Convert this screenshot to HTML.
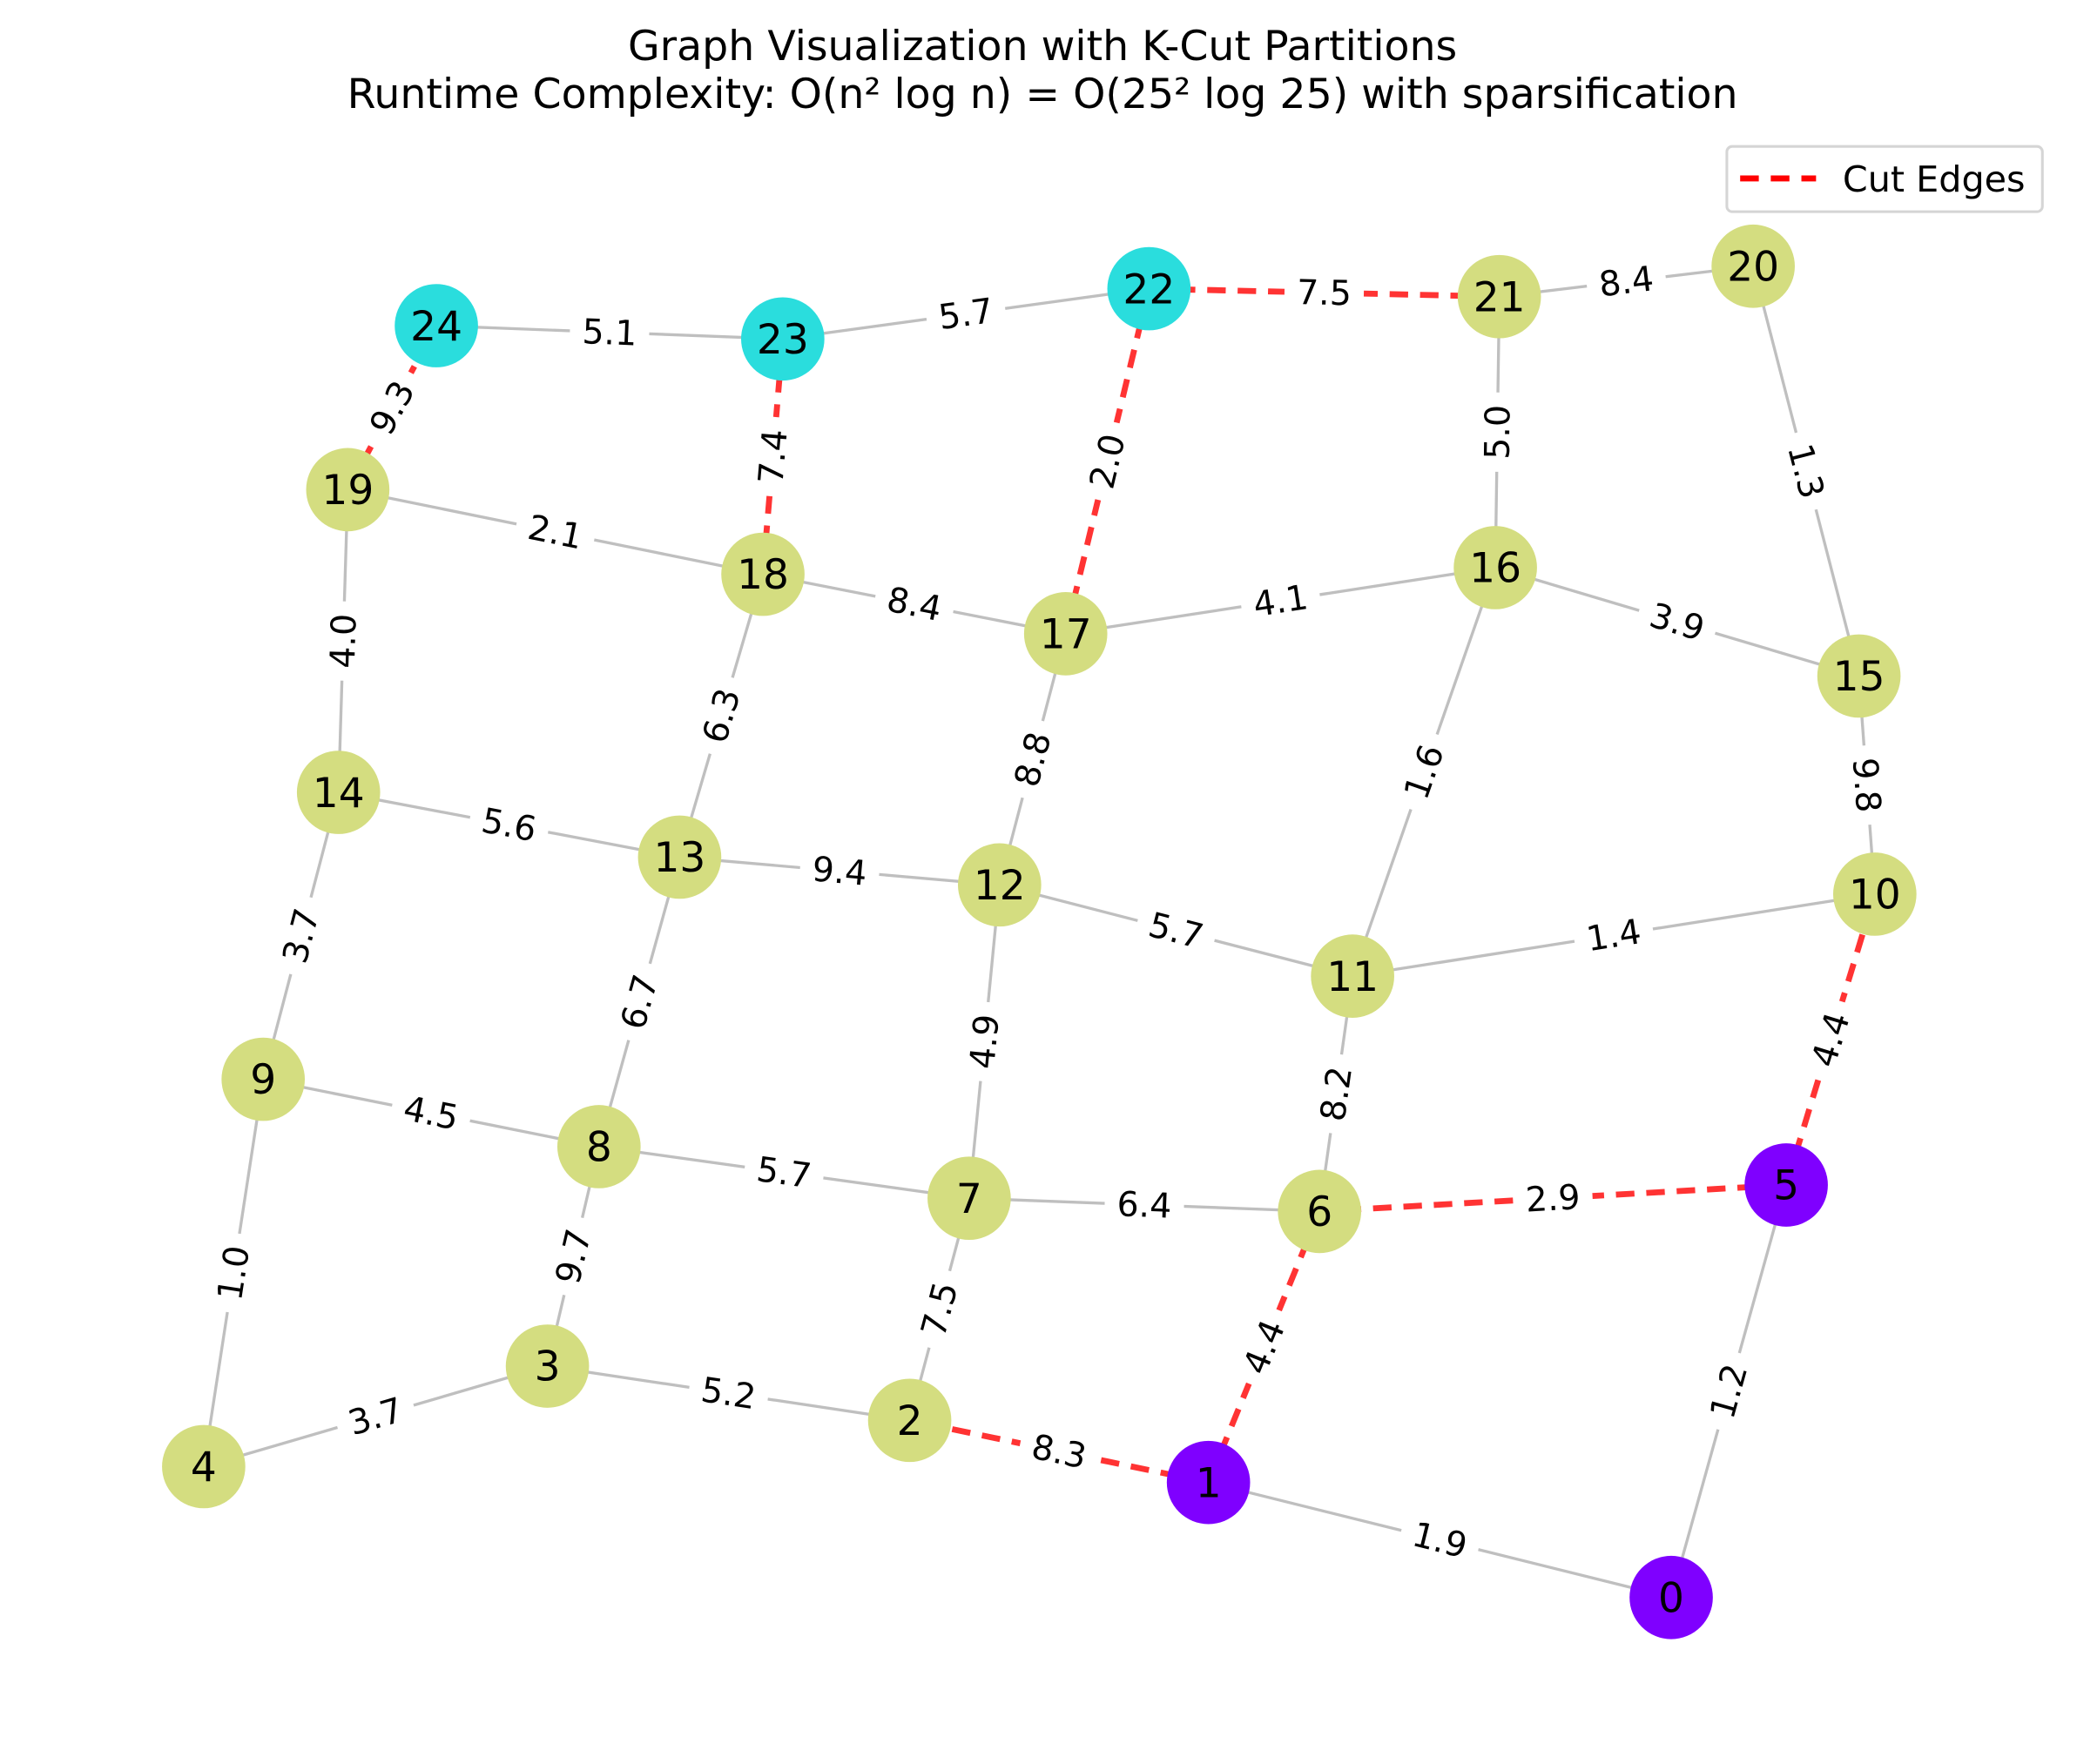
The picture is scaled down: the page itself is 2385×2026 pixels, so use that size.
<!DOCTYPE html>
<html><head><meta charset="utf-8">
<style>
html,body{margin:0;padding:0;background:#fff;}
svg{display:block;}
text{font-family:"DejaVu Sans","Liberation Sans",sans-serif;}
</style></head>
<body>
<svg id="chart" width="2385" height="2026" viewBox="0 0 1560 1325" preserveAspectRatio="none" xmlns="http://www.w3.org/2000/svg">
<text x="783" y="45" text-anchor="middle" font-size="31" fill="#000">Graph Visualization with K-Cut Partitions</text>
<text x="783" y="81" text-anchor="middle" font-size="31" fill="#000">Runtime Complexity: O(n² log n) = O(25² log 25) with sparsification</text>
<g transform="translate(150,195) scale(0.993) translate(-150,-195)">
<g id="edges"></g>
<g id="labels"></g>
<g id="nodes"></g>
</g>
<g>
<rect x="1297" y="110" width="237" height="49" rx="4" fill="#fff" stroke="#d5d5d5" stroke-width="2"/>
<line x1="1307" y1="134" x2="1364" y2="134" stroke="#ff0000" stroke-width="4.5" stroke-dasharray="14,9"/>
<text x="1384" y="144" font-size="27" fill="#000">Cut Edges</text>
</g>
</svg>
<script>
const nodeIds = [0,1,2,3,4,5,6,7,8,9,10,11,12,13,14,15,16,17,18,19,20,21,22,23,24];
const nodeX = [1263,913,687,413,153,1350,997,732,452,198,1417,1022,755,513,255,1405,1130,805,576,262,1325,1133,868,591,329];
const nodeY = [1207,1120,1073,1032,1108,895,915,905,866,815,675,737,668,647,598,510,428,478,433,369,200,223,217,255,245];
const nodePartition = [0,0,1,1,1,0,1,1,1,1,1,1,1,1,1,1,1,1,1,1,1,1,2,2,2];
const partitionColors = ["#7f00ff","#d4dd80","#2adddd"];
const edgeFrom = [0,0,1,1,2,2,3,3,4,5,5,6,6,7,7,8,8,9,10,10,11,11,12,12,13,13,14,15,15,16,16,17,17,18,18,19,20,21,22,23];
const edgeTo   = [1,5,2,6,3,7,4,8,9,6,10,7,11,8,12,9,13,14,11,15,12,16,13,17,14,18,19,16,20,17,21,18,22,19,23,24,21,22,23,24];
const edgeWeights = [1.9,1.2,8.3,4.4,5.2,7.5,3.7,9.7,1.0,2.9,4.4,6.4,8.2,5.7,4.9,4.5,6.7,3.7,1.4,9.8,5.7,1.6,9.4,8.8,5.6,6.3,4.0,3.9,1.3,4.1,5.0,8.4,2.0,2.1,7.4,9.3,8.4,7.5,5.7,5.1];
const edgeCut = [0,0,1,1,0,0,0,0,0,1,1,0,0,0,0,0,0,0,0,0,0,0,0,0,0,0,0,0,0,0,0,0,1,0,1,1,0,1,0,0];

const NS="http://www.w3.org/2000/svg";
const gE=document.getElementById('edges'), gL=document.getElementById('labels'), gN=document.getElementById('nodes');
function px(i){return nodeX[nodeIds.indexOf(i)];}
function py(i){return nodeY[nodeIds.indexOf(i)];}
for(let k=0;k<edgeFrom.length;k++){
  const x1=px(edgeFrom[k]),y1=py(edgeFrom[k]),x2=px(edgeTo[k]),y2=py(edgeTo[k]);
  const ln=document.createElementNS(NS,'line');
  
  
  ln.setAttribute('x1',x1);ln.setAttribute('y1',y1);ln.setAttribute('x2',x2);ln.setAttribute('y2',y2);
  if(edgeCut[k]){ln.setAttribute('stroke','#ff3333');ln.setAttribute('stroke-width','4.5');ln.setAttribute('stroke-dasharray','14,9');}
  else{ln.setAttribute('stroke','#bfbfbf');ln.setAttribute('stroke-width','2.2');}
  gE.appendChild(ln);
  const mx=(x1+x2)/2,my=(y1+y2)/2;
  let a=Math.atan2(y2-y1,x2-x1)*180/Math.PI;
  if(a>90)a-=180; if(a<-90)a+=180;
  const g=document.createElementNS(NS,'g');
  
  
  g.setAttribute('transform','translate('+mx+','+my+') rotate('+a+')');
  const r=document.createElementNS(NS,'rect');
  r.setAttribute('x',-30);r.setAttribute('y',-15);r.setAttribute('width',60);r.setAttribute('height',30);r.setAttribute('fill','#fff');
  g.appendChild(r);
  const t=document.createElementNS(NS,'text');
  t.setAttribute('text-anchor','middle');t.setAttribute('y',9);t.setAttribute('font-size','26');
  t.textContent=edgeWeights[k].toFixed(1);
  g.appendChild(t);
  gL.appendChild(g);
}
for(let i=0;i<nodeIds.length;i++){
  const c=document.createElementNS(NS,'circle');
  
  
  c.setAttribute('cx',nodeX[i]);c.setAttribute('cy',nodeY[i]);c.setAttribute('r',31.5);
  c.setAttribute('fill',partitionColors[nodePartition[i]]);
  gN.appendChild(c);
  const t=document.createElementNS(NS,'text');
  
  
  t.setAttribute('x',nodeX[i]);t.setAttribute('y',nodeY[i]+11);t.setAttribute('text-anchor','middle');t.setAttribute('font-size','31');
  t.textContent=nodeIds[i];
  gN.appendChild(t);
}
</script>
</body></html>
